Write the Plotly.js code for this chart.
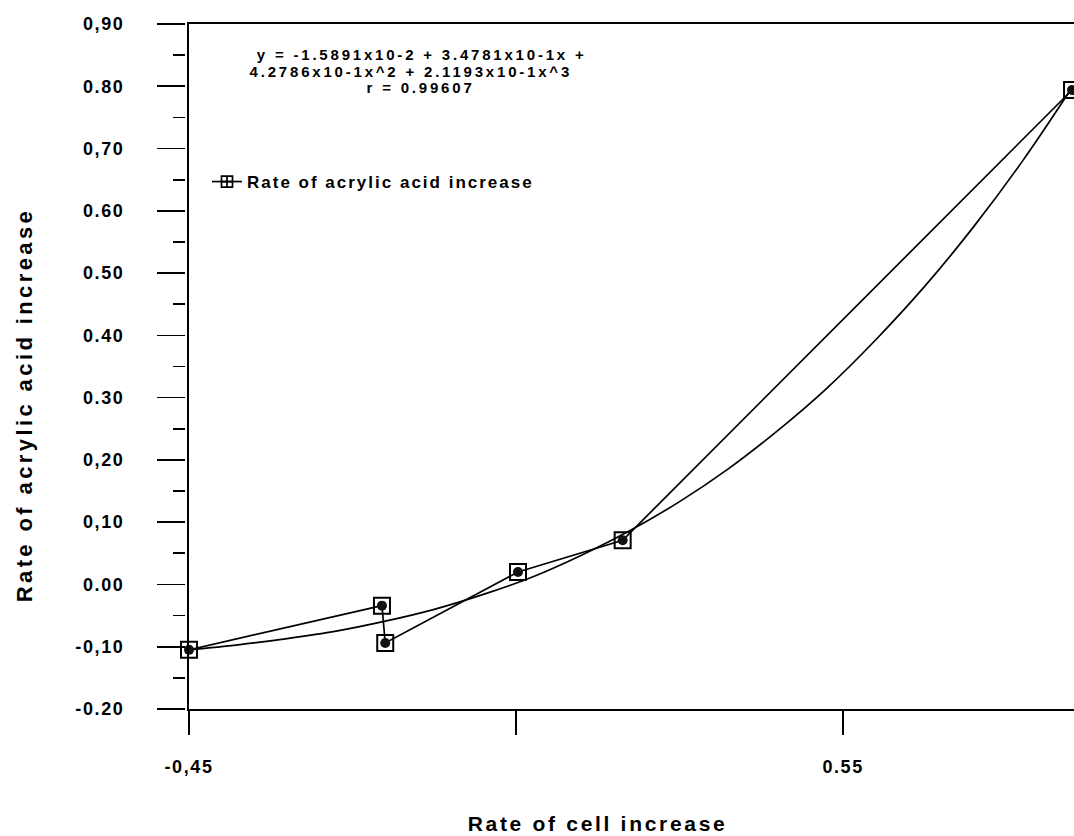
<!DOCTYPE html>
<html>
<head>
<meta charset="utf-8">
<script src="https://cdn.plot.ly/plotly-3.0.1.min.js"></script>
<style>
  html, body { margin: 0; padding: 0; background: #fff; }
  #chart { width: 1074px; height: 836px; }
  svg text { letter-spacing: 2px; }
  #chart g[class$="tick"] text { letter-spacing: 1.6px; }
  #chart g.annotation[data-index="0"] text,
  #chart g.annotation[data-index="1"] text,
  #chart g.annotation[data-index="2"] text { letter-spacing: 2.8px; }
  #chart g.annotation[data-index="3"] text { letter-spacing: 3.4px; }
  #chart g.annotation[data-index="4"] text { letter-spacing: 2.7px; }
</style>
</head>
<body>
<div id="chart"></div>
<script>
// ---- data ----
const cellRate = [-0.45, -0.155, -0.150, 0.053, 0.213, 0.900];
const acidRate = [-0.105, -0.034, -0.094, 0.020, 0.071, 0.794];

// fitted cubic curve
const fitX = [-0.45, -0.375, -0.30, -0.225, -0.15, -0.075, 0.0, 0.075, 0.15, 0.225, 0.30, 0.375, 0.45, 0.525, 0.60, 0.675, 0.75, 0.825, 0.90];
const fitY = [-0.105, -0.097, -0.087, -0.075, -0.059, -0.040, -0.016, 0.012, 0.047, 0.087, 0.133, 0.186, 0.247, 0.315, 0.393, 0.479, 0.575, 0.681, 0.798];

const yTickVals = [0.9, 0.8, 0.7, 0.6, 0.5, 0.4, 0.3, 0.2, 0.1, 0.0, -0.1, -0.2];
const yTickText = ["0,90", "0.80", "0,70", "0.60", "0.50", "0.40", "0.30", "0,20", "0,10", "0.00", "-0,10", "-0.20"];
const xTickVals = [-0.45, 0.05, 0.55];
const xTickText = ["-0,45", "", "0.55"];

const seriesName = "Rate of acrylic acid increase";
const eqLines = ["y = -1.5891x10-2 + 3.4781x10-1x +", "4.2786x10-1x^2 + 2.1193x10-1x^3", "r = 0.99607"];
const xTitle = "Rate of cell increase";
const yTitle = "Rate of acrylic acid increase";

// ---- layout helpers ----
const W = 1074, H = 836;
const mL = 185, mR = 0, mT = 24, mB = 127;
const plotW = W - mL - mR, plotH = H - mT - mB;
const px = v => (v - mL) / plotW;
const py = v => (H - mB - v) / plotH;
const FONT = "Liberation Sans, Arial, sans-serif";

const traces = [
  { // fitted curve
    x: fitX, y: fitY, mode: "lines", type: "scatter",
    line: { color: "#000", width: 1.7, shape: "spline", smoothing: 1 },
    showlegend: false, hoverinfo: "skip", cliponaxis: false
  },
  { // data line with square markers
    x: cellRate, y: acidRate, mode: "lines+markers", type: "scatter",
    line: { color: "#000", width: 1.7 },
    marker: { symbol: "square-open", size: 16, color: "#000", line: { width: 2, color: "#000" } },
    showlegend: false, cliponaxis: false
  },
  { // inner dots
    x: cellRate, y: acidRate, mode: "markers", type: "scatter",
    marker: { symbol: "circle", size: 10, color: "#111" },
    showlegend: false, cliponaxis: false
  },
  { // legend entry
    x: [null], y: [null], yaxis: "y2", mode: "lines+markers", type: "scatter",
    name: seriesName,
    line: { color: "#000", width: 1.7 },
    marker: { symbol: "square-cross-open", size: 11, color: "#000", line: { width: 1.7, color: "#000" } }
  }
];

const annotations = [
  { text: eqLines[0], x: px(421), y: py(55) },
  { text: eqLines[1], x: px(411), y: py(71) },
  { text: eqLines[2], x: px(420), y: py(87) }
].map(a => Object.assign(a, {
  xref: "paper", yref: "paper", showarrow: false, xanchor: "center", yanchor: "middle",
  font: { family: FONT, size: 15, color: "#000", weight: "bold" }
}));
annotations.push({
  text: yTitle, textangle: -90, x: px(25), y: py(405), xref: "paper", yref: "paper",
  showarrow: false, xanchor: "center", yanchor: "middle",
  font: { family: FONT, size: 22, color: "#000", weight: "bold" }
});
annotations.push({
  text: xTitle, x: px(597), y: py(823), xref: "paper", yref: "paper",
  showarrow: false, xanchor: "center", yanchor: "middle",
  font: { family: FONT, size: 21, color: "#000", weight: "bold" }
});

const layout = {
  width: W, height: H,
  margin: { l: mL, r: mR, t: mT, b: mB, pad: 0 },
  paper_bgcolor: "#fff", plot_bgcolor: "#fff",
  font: { family: FONT, color: "#000" },
  showlegend: true,
  legend: {
    x: px(207), y: py(182), xanchor: "left", yanchor: "middle",
    bgcolor: "rgba(0,0,0,0)", borderwidth: 0,
    font: { family: FONT, size: 17, color: "#000", weight: "bold" }
  },
  xaxis: {
    domain: [4 / plotW, 1], range: [-0.45, 0.903],
    showline: true, linecolor: "#000", linewidth: 1.7, mirror: true,
    ticks: "outside", ticklen: 24, tickwidth: 1.7, tickcolor: "#000",
    tickmode: "array", tickvals: xTickVals, ticktext: xTickText,
    ticklabelstandoff: 17,
    tickfont: { family: FONT, size: 18, color: "#000", weight: "bold" },
    showgrid: false, zeroline: false, fixedrange: true
  },
  yaxis: {
    range: [-0.2, 0.9],
    showline: true, linecolor: "#000", linewidth: 2.2,
    ticks: "", showticklabels: false, showgrid: false, zeroline: false, fixedrange: true
  },
  yaxis2: {
    overlaying: "y", anchor: "free", position: 0, side: "left",
    range: [-0.2, 0.9], showline: false,
    ticks: "outside", ticklen: 28, tickwidth: 1.7, tickcolor: "#000",
    tickmode: "array", tickvals: yTickVals, ticktext: yTickText,
    ticklabelstandoff: 29,
    minor: { tickmode: "linear", tick0: -0.15, dtick: 0.1, ticks: "outside", ticklen: 12, tickwidth: 1.7, tickcolor: "#000", showgrid: false },
    tickfont: { family: FONT, size: 18, color: "#000", weight: "bold" },
    showgrid: false, zeroline: false, fixedrange: true
  },
  annotations: annotations
};

Plotly.newPlot("chart", traces, layout, { displayModeBar: false, staticPlot: true });
</script>
</body>
</html>
